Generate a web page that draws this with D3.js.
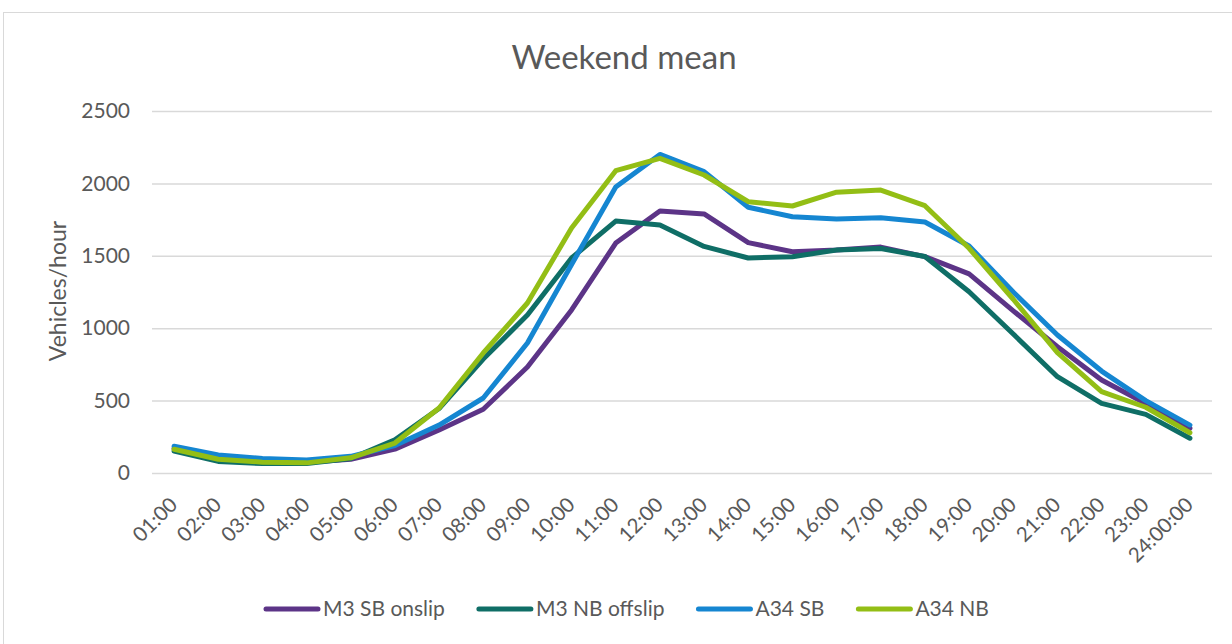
<!DOCTYPE html>
<html>
<head>
<meta charset="utf-8">
<script src="https://cdn.jsdelivr.net/npm/d3@7"></script>
<style>
  html, body { margin: 0; padding: 0; background: #ffffff; }
  svg { display: block; font-family: Lato, "Open Sans", sans-serif; }
</style>
</head>
<body>
<svg id="chart" width="1232" height="644"></svg>
<script>
// Hourly weekend mean flows (vehicles/hour)
const hours = ["01:00","02:00","03:00","04:00","05:00","06:00","07:00","08:00","09:00","10:00","11:00","12:00",
               "13:00","14:00","15:00","16:00","17:00","18:00","19:00","20:00","21:00","22:00","23:00","24:00:00"];

const m3SbOnslip  = [170, 100, 80, 75, 95, 165, 297, 440, 732, 1126, 1588, 1810, 1789, 1591, 1528, 1540, 1560, 1494, 1375, 1120, 872, 642, 480, 309];
const m3NbOffslip = [152, 80, 65, 65, 100, 230, 445, 787, 1091, 1485, 1740, 1713, 1565, 1485, 1494, 1540, 1550, 1495, 1252, 960, 665, 481, 405, 240];
const a34Sb       = [185, 125, 100, 90, 115, 190, 331, 518, 898, 1440, 1975, 2200, 2081, 1835, 1770, 1754, 1763, 1733, 1568, 1250, 953, 704, 500, 331];
const a34Nb       = [164, 95, 75, 70, 105, 207, 449, 829, 1174, 1692, 2088, 2173, 2058, 1874, 1844, 1939, 1954, 1846, 1552, 1200, 831, 562, 454, 278];

const seriesNames = ["M3 SB onslip", "M3 NB offslip", "A34 SB", "A34 NB"];
const seriesColors = ["#5c3487", "#0f6e66", "#1586d1", "#93be15"];
const yTicks = [0, 500, 1000, 1500, 2000, 2500];

const series = [m3SbOnslip, m3NbOffslip, a34Sb, a34Nb].map((values, i) => ({
  name: seriesNames[i], color: seriesColors[i], values
}));

const svg = d3.select("#chart");
const textColor = "#595959";
const plot = { left: 152, right: 1212, top: 111, bottom: 473 };

// Outer chart frame
svg.append("rect")
  .attr("x", 3.5).attr("y", 12.5)
  .attr("width", 1250).attr("height", 660)
  .attr("fill", "none").attr("stroke", "#d9d9d9").attr("stroke-width", 1);

const x = d3.scalePoint().domain(hours).range([plot.left, plot.right]).padding(0.5);
const y = d3.scaleLinear().domain([0, 2500]).range([plot.bottom, plot.top]);

// Y axis with gridlines
const yAxis = svg.append("g")
  .attr("transform", `translate(${plot.left},0)`)
  .call(d3.axisLeft(y).tickValues(yTicks).tickFormat(d3.format("d"))
    .tickSize(-(plot.right - plot.left)).tickPadding(22));
yAxis.select(".domain").remove();
yAxis.selectAll(".tick line").attr("stroke", "#d9d9d9").attr("stroke-width", 1.5);
yAxis.selectAll(".tick text")
  .attr("fill", textColor).attr("font-size", 21).attr("font-family", "Lato, sans-serif");

// X axis with rotated hour labels
const xAxis = svg.append("g")
  .attr("transform", `translate(0,${plot.bottom})`)
  .call(d3.axisBottom(x).tickSize(0));
xAxis.select(".domain").remove();
xAxis.selectAll(".tick text")
  .attr("fill", textColor).attr("font-size", 20.5).attr("font-family", "Lato, sans-serif")
  .attr("x", 0).attr("y", 0).attr("dy", 0)
  .attr("text-anchor", "end")
  .attr("transform", "translate(4,33) rotate(-45)");

// Series lines
const line = d3.line()
  .x((d, i) => x(hours[i]))
  .y(d => y(d));

svg.append("g").selectAll("path")
  .data(series)
  .join("path")
  .attr("d", d => line(d.values))
  .attr("fill", "none")
  .attr("stroke", d => d.color)
  .attr("stroke-width", 5)
  .attr("stroke-linejoin", "round")
  .attr("stroke-linecap", "round");

// Title
svg.append("text")
  .attr("x", 624).attr("y", 69)
  .attr("text-anchor", "middle")
  .attr("fill", textColor).attr("font-size", 33)
  .text("Weekend mean");

// Y axis title
svg.append("text")
  .attr("transform", "translate(58,291) rotate(-90)")
  .attr("text-anchor", "middle").attr("dy", "0.35em")
  .attr("fill", textColor).attr("font-size", 23)
  .text("Vehicles/hour");

// Legend
const legend = svg.append("g").attr("transform", "translate(264,609)");
let lx = 0;
series.forEach(s => {
  const g = legend.append("g").attr("transform", `translate(${lx},0)`);
  g.append("line")
    .attr("x1", 2).attr("x2", 54).attr("y1", 0).attr("y2", 0)
    .attr("stroke", s.color).attr("stroke-width", 5).attr("stroke-linecap", "round");
  const t = g.append("text")
    .attr("x", 59).attr("y", 0).attr("dy", "0.35em")
    .attr("fill", textColor).attr("font-size", 21)
    .text(s.name);
  lx += 59 + t.node().getComputedTextLength() + 32;
});
</script>
</body>
</html>
